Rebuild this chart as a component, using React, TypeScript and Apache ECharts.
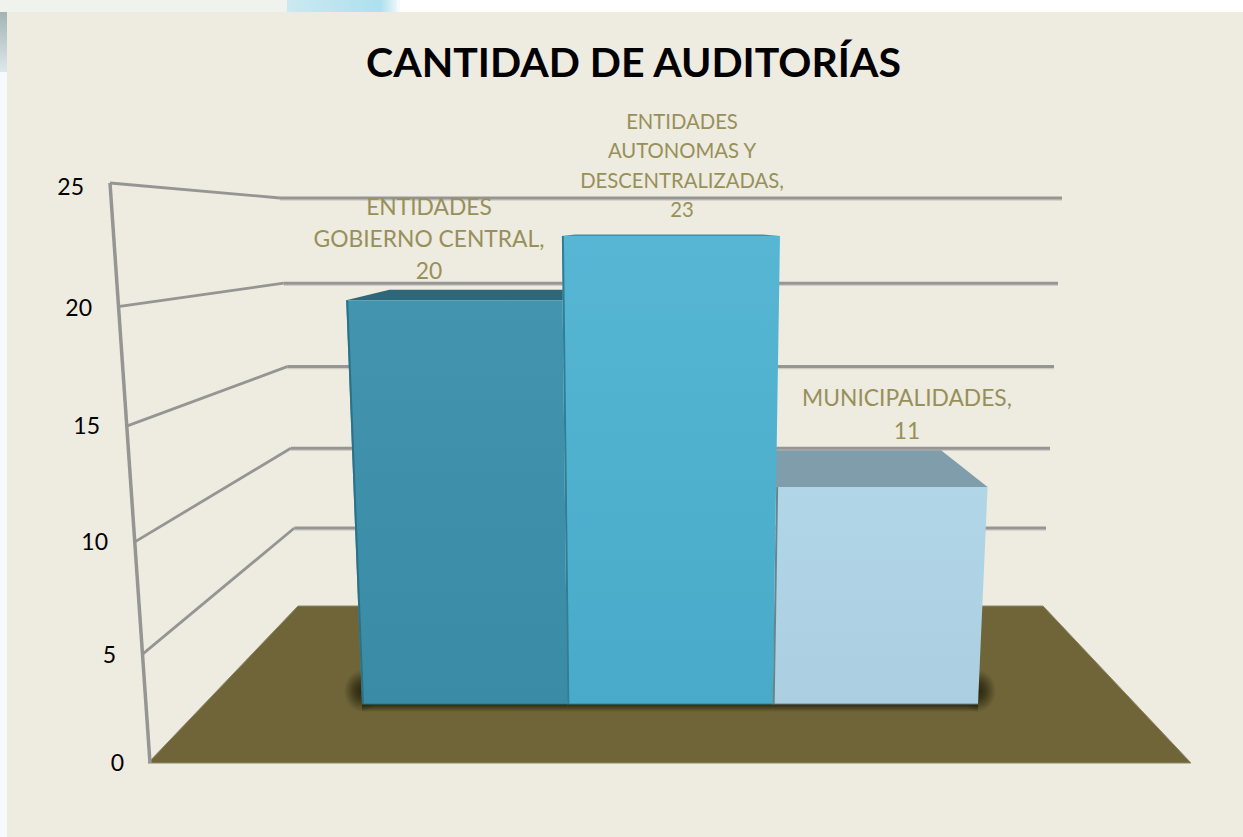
import React, { useEffect, useRef } from "react";
import * as echarts from "echarts";

const W = 1243;
const H = 837;

const categories = ["ENTIDADES\nGOBIERNO CENTRAL", "ENTIDADES\nAUTONOMAS Y\nDESCENTRALIZADAS", "MUNICIPALIDADES"];
const values = [20, 23, 11];
const yTicks = [0, 5, 10, 15, 20, 25];
const chartTitle = "CANTIDAD DE AUDITORÍAS";

// styling per bar
const frontTop = ["#4294AF", "#56B6D4", "#B1D6E7"];
const frontBottom = ["#3A8BA5", "#49ABC9", "#ABCFE1"];
const topFace = ["#2E667A", "#3F8FAA", "#7F9DAA"];
const edge = ["#2A7289", "#2F7E96", "#66858F"];
const barZ = [2, 3, 1];
const labelCenter = [[429, 238], [682, 165], [907, 413]];
const labelLine = [32, 29.5, 33];
const labelSize = [22.8, 20.3, 22.8];
const tickLabelNudge = [-1, -1, -1, -1, 0, 3];

// perspective layout
const BASE_Y = 704;
const PX_PER_UNIT = 19.15;
const VANISH_X = 655;
const VANISH_Y = 225;
const DEPTH = 0.14;

const warpX = (x: number, v: number) => VANISH_X + (x - VANISH_X) * (1 + 0.0027 * v);
const warpY = (y: number, v: number) => y - 0.052 * v * v;
const back = (p: number[]) => [p[0] + DEPTH * (VANISH_X - p[0]), p[1] + DEPTH * (VANISH_Y - p[1])];

const GRID = "#959593";
const SHADOW = "rgba(35,30,8,0.9)";
const SHADOW_OFF = "rgba(35,30,8,0)";

export default function App() {
  const ref = useRef<HTMLDivElement>(null);
  useEffect(() => {
    const chart = echarts.init(ref.current!, null, { renderer: "svg" });
    const font = "Lato";

    const fade = (x0: number, y0: number, x1: number, y1: number) =>
      new echarts.graphic.LinearGradient(x0, y0, x1, y1, [
        { offset: 0, color: SHADOW },
        { offset: 1, color: SHADOW_OFF },
      ]);
    const glow = () =>
      new echarts.graphic.RadialGradient(0.5, 0.5, 0.5, [
        { offset: 0, color: SHADOW },
        { offset: 0.45, color: "rgba(35,30,8,0.6)" },
        { offset: 1, color: SHADOW_OFF },
      ]);

    const renderWall = (idx: any, api: any) => {
      const v = api.value(0);
      const u = (BASE_Y - api.coord([0, v])[1]) / PX_PER_UNIT;
      const lx = 150 - 1.6 * u;
      const ly = 763 - (21.3 * u + 0.076 * u * u);
      const bx = 298 - 0.72 * u;
      const by = 606 - (15.42 * u + 0.036 * u * u);
      const rx = 1042 + 0.8 * u;
      const children: any[] = [];
      if (v === 0) {
        children.push({
          type: "polygon",
          shape: { points: [[lx - 2, ly], [1191, ly], [rx + 1, by], [bx, by]] },
          style: { fill: "#6F6539", stroke: "#8E8868", lineWidth: 1 },
        });
        const topU = yTicks[yTicks.length - 1];
        children.push({
          type: "polyline",
          shape: { points: [[lx, ly], [150 - 1.6 * topU, 763 - (21.3 * topU + 0.076 * topU * topU)]] },
          style: { stroke: GRID, lineWidth: 3.5, fill: "none" },
        });
      } else {
        children.push({
          type: "polyline",
          shape: { points: [[lx, ly], [bx, by]] },
          style: { stroke: GRID, lineWidth: 2.8, fill: "none" },
        });
        children.push({
          type: "line",
          shape: { x1: bx, y1: by + 2, x2: rx, y2: by + 2 },
          style: { stroke: "#CFCDC4", lineWidth: 1.5 },
        });
        children.push({
          type: "line",
          shape: { x1: bx, y1: by, x2: rx, y2: by },
          style: { stroke: GRID, lineWidth: 3 },
        });
      }
      children.push({
        type: "text",
        style: {
          text: String(v),
          x: lx - 26,
          y: ly + tickLabelNudge[idx.dataIndex ?? yTicks.indexOf(v)],
          align: "right",
          verticalAlign: "middle",
          fontFamily: font,
          fontSize: 23,
          fill: "#000",
        },
      });
      return { type: "group", children };
    };

    const renderBar = (_: any, api: any) => {
      const i = api.value(0);
      const v = api.value(1);
      const c = api.coord([i, v]);
      const base = api.coord([i, 0]);
      const band = api.size([1, 0])[0];
      const x0 = base[0] - band / 2;
      const x1 = base[0] + band / 2;
      const topY = warpY(c[1], v);
      const tl = [warpX(x0, v), topY];
      const tr = [warpX(x1, v), topY];
      const bl = [x0, base[1]];
      const br = [x1, base[1]];
      const btl = back(tl);
      const btr = back(tr);
      const shade: any[] = [
        {
          type: "rect",
          z2: 0,
          shape: { x: x0, y: base[1], width: x1 - x0, height: 8 },
          style: { fill: fade(0, 0, 0, 1) },
        },
      ];
      if (i === 0) {
        shade.push({
          type: "rect",
          z2: 0,
          shape: { x: x0 - 18, y: base[1] - 34, width: 36, height: 42 },
          style: { fill: glow() },
        });
      }
      if (i === categories.length - 1) {
        shade.push({
          type: "rect",
          z2: 0,
          shape: { x: x1 - 18, y: base[1] - 34, width: 36, height: 42 },
          style: { fill: glow() },
        });
      }
      return {
        type: "group",
        children: [
          ...shade,
          {
            type: "polygon",
            z2: barZ[i],
            shape: { points: [tl, btl, btr, tr] },
            style: { fill: topFace[i] },
          },
          {
            type: "polygon",
            z2: barZ[i] + 0.1,
            shape: { points: [tl, tr, br, bl] },
            style: {
              fill: new echarts.graphic.LinearGradient(0, 0, 0, 1, [
                { offset: 0, color: frontTop[i] },
                { offset: 1, color: frontBottom[i] },
              ]),
            },
          },
          {
            type: "line",
            z2: barZ[i] + 0.2,
            shape: { x1: tl[0] + 1, y1: tl[1], x2: bl[0] + 1, y2: bl[1] },
            style: { stroke: edge[i], lineWidth: 2 },
          },
          {
            type: "line",
            z2: barZ[i] + 0.2,
            shape: { x1: bl[0], y1: bl[1], x2: br[0], y2: br[1] },
            style: { stroke: edge[i], lineWidth: 1 },
          },
          {
            type: "text",
            z2: 9,
            style: {
              text: `${categories[i]},\n${v}`,
              x: labelCenter[i][0],
              y: labelCenter[i][1],
              align: "center",
              verticalAlign: "middle",
              lineHeight: labelLine[i],
              fontFamily: font,
              fontSize: labelSize[i],
              fill: "#97905A",
            },
          },
        ],
      };
    };

    chart.setOption({
      animation: false,
      backgroundColor: "#F6FAFC",
      title: {
        text: chartTitle,
        left: 628.5,
        top: 36,
        textAlign: "center",
        textStyle: { fontFamily: font, fontWeight: "bold", fontSize: 41, color: "#000" },
      },
      graphic: [
        {
          type: "rect",
          z: 0,
          shape: { x: 0, y: 12, width: 7, height: 60 },
          style: {
            fill: new echarts.graphic.LinearGradient(0, 0, 0, 1, [
              { offset: 0, color: "#A3B3B3" },
              { offset: 1, color: "#DDE8EC" },
            ]),
          },
        },
        {
          type: "rect",
          z: 0,
          shape: { x: 287, y: 0, width: 110, height: 12 },
          style: {
            fill: new echarts.graphic.LinearGradient(0, 0, 1, 0, [
              { offset: 0, color: "#CBE9F1" },
              { offset: 0.85, color: "#AEE0EE" },
              { offset: 1, color: "#EAF6FA" },
            ]),
          },
        },
        {
          type: "rect",
          z: 0,
          shape: { x: 0, y: 0, width: 287, height: 12 },
          style: { fill: "#F0F2EE" },
        },
        {
          type: "rect",
          z: 0,
          shape: { x: 400, y: 0, width: 843, height: 12 },
          style: { fill: "#FFFFFF" },
        },
        {
          type: "rect",
          z: 1,
          shape: { x: 7, y: 12, width: W - 7, height: H - 12 },
          style: { fill: "#EEEBE0" },
        },
      ],
      grid: { left: 362, top: BASE_Y - PX_PER_UNIT * 25, width: 616, height: PX_PER_UNIT * 25 },
      xAxis: { type: "category", data: categories, show: false },
      yAxis: { type: "value", min: 0, max: 25, interval: 5, show: false },
      series: [
        {
          type: "custom",
          name: "walls",
          clip: false,
          silent: true,
          z: 2,
          encode: { x: -1, y: 0 },
          coordinateSystem: "cartesian2d",
          data: yTicks.map((t) => [t]),
          renderItem: renderWall,
        },
        {
          type: "custom",
          name: "Cantidad",
          clip: false,
          silent: true,
          z: 3,
          encode: { x: 0, y: 1 },
          data: values.map((v, i) => [i, v]),
          renderItem: renderBar,
        },
      ],
    });
    return () => chart.dispose();
  }, []);
  return <div ref={ref} style={{ position: "fixed", left: 0, top: 0, width: W, height: H }} />;
}
